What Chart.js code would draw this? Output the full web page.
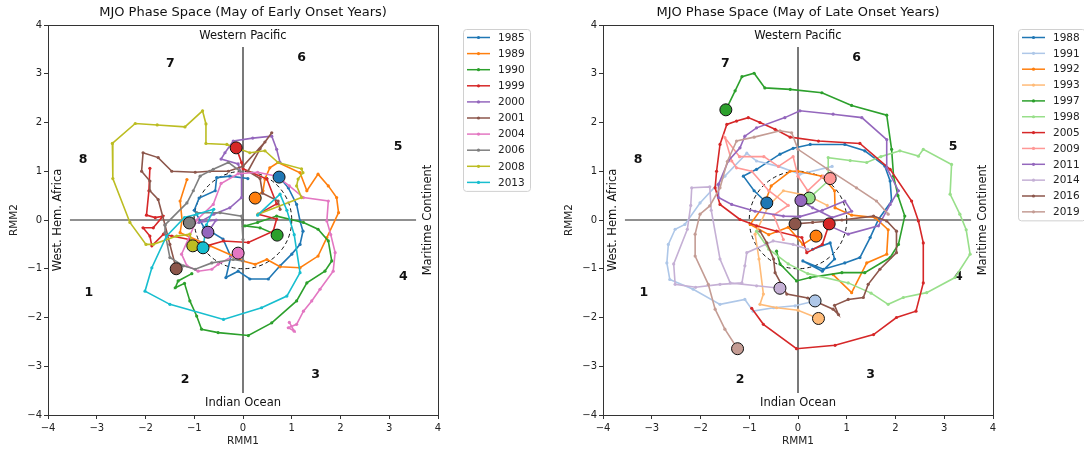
<!DOCTYPE html>
<html lang="en">
<head>
<meta charset="UTF-8">
<title>MJO Phase Space</title>
<script src="https://cdn.jsdelivr.net/npm/chart.js"></script>
<style>
    body {
        margin: 0;
        background: #fff;
        width: 1084px;
        height: 449px;
        overflow: hidden;
        position: relative;
    }
    canvas { position: absolute; top: 0; }
    #early { left: 0; }
    #late { left: 555px; }
</style>
</head>
<body>
<canvas id="early" width="542" height="449"></canvas>
<canvas id="late" width="529" height="449"></canvas>
<script>
// ---- data: RMM1/RMM2 daily pairs, last point = marked end ----
const earlyYears = ['1985', '1989', '1990', '1999', '2000', '2001', '2004', '2006', '2008', '2013'];
const lateYears = ['1988', '1991', '1992', '1993', '1997', '1998', '2005', '2009', '2011', '2014', '2016', '2019'];

const t1985 = [[0.1,0.85],[-0.27,0.9],[-0.54,0.87],[-0.57,0.6],[-0.9,0.45],[-1.0,0.2],[-0.8,-0.15],[-0.41,-0.39],[-0.25,-0.75],[-0.35,-1.18],[-0.1,-1.05],[0.14,-1.21],[0.52,-1.21],[0.76,-0.94],[1.0,-0.7],[1.17,-0.5],[1.23,-0.23],[1.17,-0.02],[1.1,0.32],[0.93,0.66],[0.74,0.88]];
const t1989 = [[-1.15,0.83],[-1.29,0.39],[-1.25,0.0],[-1.29,-0.26],[-0.68,-0.53],[-0.2,-0.74],[0.0,-0.84],[0.25,-0.91],[0.49,-0.81],[0.76,-0.96],[1.17,-0.98],[1.54,-0.74],[1.72,-0.36],[1.96,0.15],[1.92,0.46],[1.75,0.7],[1.54,0.94],[1.31,0.6],[1.17,0.97],[0.72,1.18],[0.55,1.07],[0.45,0.84],[0.41,0.6],[0.25,0.45]];
const t1990 = [[-1.05,-1.1],[-1.33,-1.25],[-1.39,-1.39],[-1.2,-1.3],[-1.09,-1.66],[-0.95,-1.97],[-0.85,-2.24],[-0.51,-2.31],[0.11,-2.37],[0.59,-2.11],[1.1,-1.66],[1.31,-1.29],[1.68,-1.05],[1.82,-0.84],[1.75,-0.43],[1.54,-0.19],[1.24,-0.05],[0.69,0.08],[0.3,-0.05],[0.04,-0.12],[0.35,-0.16],[0.7,-0.31]];
const t1999 = [[-1.91,1.06],[-1.93,0.6],[-1.98,0.1],[-1.8,0.05],[-1.64,0.08],[-1.84,-0.16],[-2.05,-0.16],[-1.91,-0.33],[-1.87,-0.53],[-1.63,-0.29],[-1.46,-0.33],[-1.1,-0.4],[-0.74,-0.53],[-0.4,-0.43],[0.11,-0.46],[0.62,-0.23],[0.69,0.02],[0.31,0.12],[0.69,0.33],[0.49,0.84],[0.0,1.05],[-0.03,1.18],[-0.14,1.48]];
const t2000 = [[0.76,1.18],[0.69,1.45],[0.59,1.72],[0.2,1.68],[-0.2,1.62],[-0.37,1.38],[-0.45,1.25],[-0.1,1.15],[-0.03,0.94],[-0.03,0.46],[-0.27,0.25],[-0.6,0.12],[-0.9,-0.05],[-0.55,0.0],[-0.72,-0.25]];
const t2001 = [[0.76,0.22],[0.72,0.39],[0.4,0.55],[0.35,0.85],[0.1,1.0],[0.35,1.46],[0.59,1.79],[0.45,1.6],[0.0,1.1],[-0.3,1.0],[-0.68,1.0],[-0.98,0.98],[-1.46,1.0],[-1.74,1.28],[-2.05,1.38],[-2.08,1.0],[-1.91,0.8],[-1.91,0.6],[-1.74,0.42],[-1.6,-0.1],[-1.5,-0.5],[-1.37,-1.0]];
const t2004 = [[0.95,-2.1],[1.05,-2.28],[0.93,-2.21],[1.1,-2.14],[1.24,-1.87],[1.41,-1.66],[1.58,-1.42],[1.85,-1.05],[1.89,-0.67],[1.8,-0.3],[1.72,-0.02],[1.75,0.39],[1.24,0.46],[0.95,0.7],[0.69,0.9],[0.3,0.98],[-0.1,0.95],[-0.45,0.75],[-0.61,0.32],[-0.95,0.0],[-1.26,-0.7],[-1.15,-0.94],[-0.92,-1.05],[-0.64,-1.01],[-0.51,-0.91],[-0.1,-0.68]];
const t2006 = [[-0.06,1.0],[-0.3,1.18],[-0.61,1.04],[-0.88,0.9],[-1.02,0.6],[-1.15,0.35],[-1.6,-0.1],[-1.6,-0.26],[-1.5,-0.77],[-1.22,-0.94],[-0.98,-1.01],[-0.64,-0.88],[-0.2,-0.81],[0.0,-0.84],[0.0,-0.4],[-0.03,0.08],[-0.47,0.15],[-0.95,0.15],[-1.1,-0.06]];
const t2008 = [[0.31,0.12],[1.2,0.46],[1.1,0.7],[1.13,0.84],[1.23,0.97],[1.2,1.05],[0.72,1.18],[0.45,1.42],[0.14,1.38],[-0.33,1.55],[-0.76,1.57],[-0.76,1.97],[-0.83,2.24],[-1.19,1.91],[-1.76,1.95],[-2.21,1.98],[-2.68,1.57],[-2.67,0.85],[-2.32,-0.05],[-1.99,-0.5],[-1.84,-0.5],[-1.36,-0.33],[-1.09,-0.29],[-1.03,-0.53]];
const t2013 = [[0.3,0.1],[0.76,0.53],[0.9,0.2],[1.05,-0.3],[1.17,-1.08],[0.9,-1.56],[0.38,-1.8],[-0.4,-2.04],[-1.5,-1.73],[-2.01,-1.46],[-1.87,-0.98],[-1.57,-0.33],[-1.2,0.05],[-0.95,0.12],[-0.6,0.22],[-0.75,-0.1],[-0.82,-0.57]];

const t1988 = [[0.3,-0.6],[0.66,-0.47],[0.75,-0.8],[0.5,-1.05],[0.1,-0.84],[0.52,-1.01],[0.96,-0.88],[1.27,-0.77],[1.48,-0.36],[1.65,0.01],[1.92,0.39],[1.89,0.8],[1.78,1.11],[1.37,1.42],[0.96,1.55],[0.25,1.55],[-0.1,1.47],[-0.37,1.35],[-0.85,1.04],[-1.12,0.9],[-0.9,0.6],[-0.68,0.39],[-0.64,0.35]];
const t1991 = [[0.7,1.1],[0.04,0.94],[-0.4,1.1],[-0.85,1.21],[-1.05,1.37],[-1.5,0.9],[-2.01,0.35],[-2.32,-0.09],[-2.52,-0.19],[-2.66,-0.5],[-2.69,-0.88],[-2.63,-1.22],[-2.15,-1.42],[-1.6,-1.73],[-1.09,-1.63],[-0.92,-1.87],[-0.5,-1.8],[-0.06,-1.76],[0.35,-1.66]];
const t1992 = [[0.72,-1.12],[1.1,-1.49],[1.41,-0.88],[1.82,-0.7],[1.85,-0.2],[1.58,0.05],[1.1,0.1],[0.76,0.25],[0.75,0.6],[0.49,0.9],[0.0,1.0],[-0.16,1.0],[-0.55,0.7],[-0.7,0.3],[-0.98,-0.09],[-0.6,-0.3],[-0.2,-0.15],[0.1,-0.5],[0.37,-0.33]];
const t1993 = [[0.6,0.3],[0.2,0.5],[-0.3,0.6],[-0.6,0.3],[-0.88,-0.29],[-0.8,-0.8],[-0.71,-1.52],[-0.78,-1.73],[-0.44,-1.8],[0.0,-1.85],[0.42,-2.02]];
const t1997 = [[-0.44,-0.64],[-0.37,-0.9],[-0.03,-1.25],[0.25,-1.18],[0.9,-1.08],[1.37,-1.08],[1.89,-0.77],[2.06,-0.5],[2.19,0.08],[2.05,0.5],[1.96,0.9],[1.92,1.45],[1.82,2.15],[1.1,2.35],[0.49,2.61],[-0.16,2.68],[-0.68,2.71],[-0.9,3.01],[-1.15,2.94],[-1.29,2.65],[-1.48,2.26]];
const t1998 = [[-0.85,-0.23],[-0.6,-0.6],[-0.2,-0.9],[0.2,-1.1],[1.03,-1.29],[1.5,-1.5],[1.85,-1.73],[2.16,-1.59],[2.64,-1.49],[3.22,-1.18],[3.53,-0.7],[3.45,-0.2],[3.32,0.12],[3.12,0.53],[3.15,1.14],[2.57,1.45],[2.47,1.31],[2.09,1.42],[1.7,1.3],[1.41,1.18],[1.07,1.22],[0.62,1.28],[0.62,0.8],[0.23,0.45]];
const t2005 = [[-0.95,-1.81],[-0.71,-2.14],[-0.03,-2.64],[0.76,-2.57],[1.55,-2.35],[2.02,-2.0],[2.42,-1.87],[2.57,-1.29],[2.57,-0.47],[2.47,-0.02],[2.33,0.39],[1.89,1.04],[1.27,1.57],[0.42,1.62],[-0.16,1.7],[-0.47,1.86],[-0.78,2.0],[-1.02,2.1],[-1.26,2.03],[-1.46,1.96],[-1.6,1.55],[-1.67,1.0],[-1.7,0.66],[-1.6,0.32],[-1.19,0.01],[-0.85,-0.12],[-0.44,-0.23],[0.08,-0.36],[0.18,-0.67],[0.5,-0.5],[0.64,-0.08]];
const t2009 = [[-0.3,-0.4],[-0.5,0.1],[-0.2,0.3],[-0.6,0.6],[-0.95,1.0],[-1.26,1.07],[-1.36,1.21],[-1.5,1.69],[-1.2,1.3],[-0.7,1.3],[-0.4,1.1],[-0.1,1.3],[0.0,0.9],[0.2,0.6],[0.52,0.9],[0.66,0.85]];
const t2011 = [[0.6,-0.1],[1.03,-0.29],[1.65,-0.12],[1.89,0.32],[2.06,0.6],[1.82,1.07],[1.82,1.65],[1.31,2.1],[0.72,2.17],[0.04,2.24],[-0.27,2.1],[-0.85,1.89],[-1.09,1.72],[-1.19,1.48],[-1.43,1.21],[-1.63,0.73],[-1.63,0.46],[-1.36,0.32],[-0.88,0.18],[-0.3,0.08],[0.04,0.07],[0.5,0.2],[0.96,0.39],[1.1,0.18],[0.7,0.05],[0.3,0.25],[0.06,0.4]];
const t2014 = [[0.2,-0.6],[-0.1,-0.5],[-0.51,-0.43],[-1.05,-0.67],[-1.09,-0.94],[-1.15,-1.29],[-1.6,-1.32],[-2.1,-1.38],[-2.52,-1.32],[-2.55,-0.9],[-2.27,-0.19],[-2.2,0.3],[-2.18,0.66],[-1.81,0.68],[-1.78,0.2],[-1.6,-0.8],[-1.39,-1.29],[-0.85,-1.35],[-0.37,-1.4]];
const t2016 = [[-0.78,-0.23],[-0.64,-0.47],[-0.5,-0.8],[-0.47,-1.08],[-0.35,-1.3],[-0.23,-1.52],[0.2,-1.6],[0.72,-1.83],[0.83,-1.94],[0.75,-1.75],[1.03,-1.63],[1.34,-1.59],[1.44,-1.32],[1.68,-1.01],[2.02,-0.67],[2.02,-0.23],[1.82,-0.02],[1.55,0.08],[0.9,0.0],[0.3,-0.05],[-0.06,-0.08]];
const t2019 = [[1.85,0.12],[1.61,0.39],[1.2,0.66],[0.6,1.05],[0.0,1.45],[-0.13,1.79],[-0.37,1.83],[-0.9,1.7],[-1.26,1.62],[-1.45,1.2],[-1.6,0.66],[-1.81,0.29],[-2.01,0.12],[-2.11,-0.29],[-2.11,-0.74],[-1.84,-1.32],[-1.7,-1.83],[-1.5,-2.24],[-1.24,-2.64]];

const earlyTracks = [t1985, t1989, t1990, t1999, t2000, t2001, t2004, t2006, t2008, t2013];
const lateTracks = [t1988, t1991, t1992, t1993, t1997, t1998, t2005, t2009, t2011, t2014, t2016, t2019];

// phase numbers and where they sit (data coords)
const phaseNums = ['1', '2', '3', '4', '5', '6', '7', '8'];
const phaseX = [-3.16, -1.19, 1.49, 3.29, 3.18, 1.2, -1.49, -3.28];
const phaseY = [-1.5, -3.28, -3.18, -1.17, 1.5, 3.32, 3.2, 1.23];

const earlyColors = ['#1f77b4', '#ff7f0e', '#2ca02c', '#d62728', '#9467bd', '#8c564b', '#e377c2', '#7f7f7f', '#bcbd22', '#17becf'];
const lateColors = ['#1f77b4', '#aec7e8', '#ff7f0e', '#ffbb78', '#2ca02c', '#98df8a', '#d62728', '#ff9896', '#9467bd', '#c5b0d5', '#8c564b', '#c49c94'];

const FONT = '"DejaVu Sans", sans-serif';

const phasePlot = {
    id: 'phasePlot',
    beforeDatasetsDraw(chart) {
        const { ctx, scales: { x, y } } = chart;
        const x0 = x.getPixelForValue(0), y0 = y.getPixelForValue(0);
        ctx.save();
        ctx.strokeStyle = '#222';
        ctx.lineWidth = 1.2;
        ctx.beginPath();
        ctx.moveTo(x0, y.getPixelForValue(3.55));
        ctx.lineTo(x0, y.getPixelForValue(-3.55));
        ctx.moveTo(x.getPixelForValue(-3.55), y0);
        ctx.lineTo(x.getPixelForValue(3.55), y0);
        ctx.stroke();

        // unit circle
        const r = x.getPixelForValue(1) - x0;
        ctx.strokeStyle = '#111';
        ctx.lineWidth = 1;
        ctx.setLineDash([4, 3]);
        ctx.beginPath();
        ctx.arc(x0, y0, r, 0, Math.PI * 2);
        ctx.stroke();
        ctx.setLineDash([]);

        // region names
        ctx.fillStyle = '#111';
        ctx.font = '11.5px ' + FONT;
        ctx.textAlign = 'center';
        ctx.textBaseline = 'middle';
        ctx.fillText('Western Pacific', x0, y.getPixelForValue(3.77));
        ctx.fillText('Indian Ocean', x0, y.getPixelForValue(-3.75));
        ctx.save();
        ctx.translate(x.getPixelForValue(-3.8), y0);
        ctx.rotate(-Math.PI / 2);
        ctx.fillText('West. Hem. Africa', 0, 0);
        ctx.restore();
        ctx.save();
        ctx.translate(x.getPixelForValue(3.8), y0);
        ctx.rotate(-Math.PI / 2);
        ctx.fillText('Maritime Continent', 0, 0);
        ctx.restore();

        ctx.font = 'bold 12.5px ' + FONT;
        phaseNums.forEach((p, i) => {
            ctx.fillText(p, x.getPixelForValue(phaseX[i]), y.getPixelForValue(phaseY[i]));
        });
        ctx.restore();
    },
    afterDraw(chart, args, opts) {
        const { ctx, chartArea: a } = chart;
        ctx.save();
        // frame
        ctx.strokeStyle = '#333';
        ctx.lineWidth = 1;
        ctx.strokeRect(a.left + 0.5, a.top + 0.5, a.right - a.left, a.bottom - a.top);

        // title
        ctx.fillStyle = '#111';
        ctx.font = '13px ' + FONT;
        ctx.textAlign = 'center';
        ctx.textBaseline = 'middle';
        ctx.fillText(opts.title, (a.left + a.right) / 2, 13);

        // legend
        const years = opts.years, colors = opts.colors, rowH = opts.rowH;
        const lx = a.right + 25, ly = 29;
        const h = (years.length - 1) * rowH + 17;
        ctx.strokeStyle = '#d0d0d0';
        ctx.fillStyle = 'rgba(255,255,255,0.8)';
        ctx.beginPath();
        ctx.roundRect(lx + 0.5, ly + 0.5, 67, h, 3);
        ctx.fill();
        ctx.stroke();
        ctx.font = '10.5px ' + FONT;
        ctx.textAlign = 'left';
        years.forEach((yr, i) => {
            const cy = ly + 8.5 + i * rowH;
            ctx.strokeStyle = colors[i];
            ctx.lineWidth = 1.5;
            ctx.beginPath();
            ctx.moveTo(lx + 4, cy);
            ctx.lineTo(lx + 27, cy);
            ctx.stroke();
            ctx.fillStyle = colors[i];
            ctx.beginPath();
            ctx.arc(lx + 15.5, cy, 1.6, 0, Math.PI * 2);
            ctx.fill();
            ctx.fillStyle = '#222';
            ctx.fillText(yr, lx + 35, cy + 0.5);
        });
        ctx.restore();
    }
};

function pts(track) {
    return track.map(([x, y]) => ({ x, y }));
}

function axis(label, isX) {
    return {
        type: 'linear',
        min: -4,
        max: 4,
        ticks: {
            stepSize: 1,
            color: '#222',
            padding: isX ? 3 : 2,
            font: { family: FONT, size: 10 },
            callback: v => String(v).replace('-', '\u2212')
        },
        grid: { display: true, drawOnChartArea: false, drawTicks: true, tickLength: 4, color: '#333' },
        border: { display: false },
        title: {
            display: true,
            text: label,
            color: '#222',
            font: { family: FONT, size: 10.5 },
            padding: isX ? { top: 0, bottom: 1 } : { top: 8, bottom: 0 }
        },
        afterFit: s => {
            if (isX) s.height = 34; else s.width = 48;
        }
    };
}

function buildChart(id, title, years, tracks, colors, rowH) {
    const n = years.length;
    const canvas = document.getElementById(id);
    const lines = years.map((yr, i) => ({
        label: yr,
        data: pts(tracks[i]),
        showLine: true,
        borderColor: colors[i],
        backgroundColor: colors[i],
        borderWidth: 1.6,
        pointRadius: 1.6,
        pointBorderWidth: 0,
        order: n - i
    }));
    const ends = years.map((yr, i) => {
        const last = tracks[i][tracks[i].length - 1];
        return {
            label: yr + ' end',
            data: [{ x: last[0], y: last[1] }],
            showLine: false,
            pointRadius: 6,
            backgroundColor: colors[i],
            borderColor: '#111',
            borderWidth: 1,
            order: -1 - i
        };
    });

    return new Chart(canvas, {
        type: 'scatter',
        data: { datasets: lines.concat(ends) },
        options: {
            responsive: false,
            animation: false,
            events: [],
            layout: { padding: { top: 25, left: 0, bottom: 0, right: canvas.width - 438 } },
            scales: { x: axis('RMM1', true), y: axis('RMM2', false) },
            plugins: {
                legend: { display: false },
                tooltip: { enabled: false },
                phasePlot: { title, years, colors, rowH }
            }
        },
        plugins: [phasePlot]
    });
}

buildChart('early', 'MJO Phase Space (May of Early Onset Years)', earlyYears, earlyTracks, earlyColors, 16.1);
buildChart('late', 'MJO Phase Space (May of Late Onset Years)', lateYears, lateTracks, lateColors, 15.85);
</script>
</body>
</html>
